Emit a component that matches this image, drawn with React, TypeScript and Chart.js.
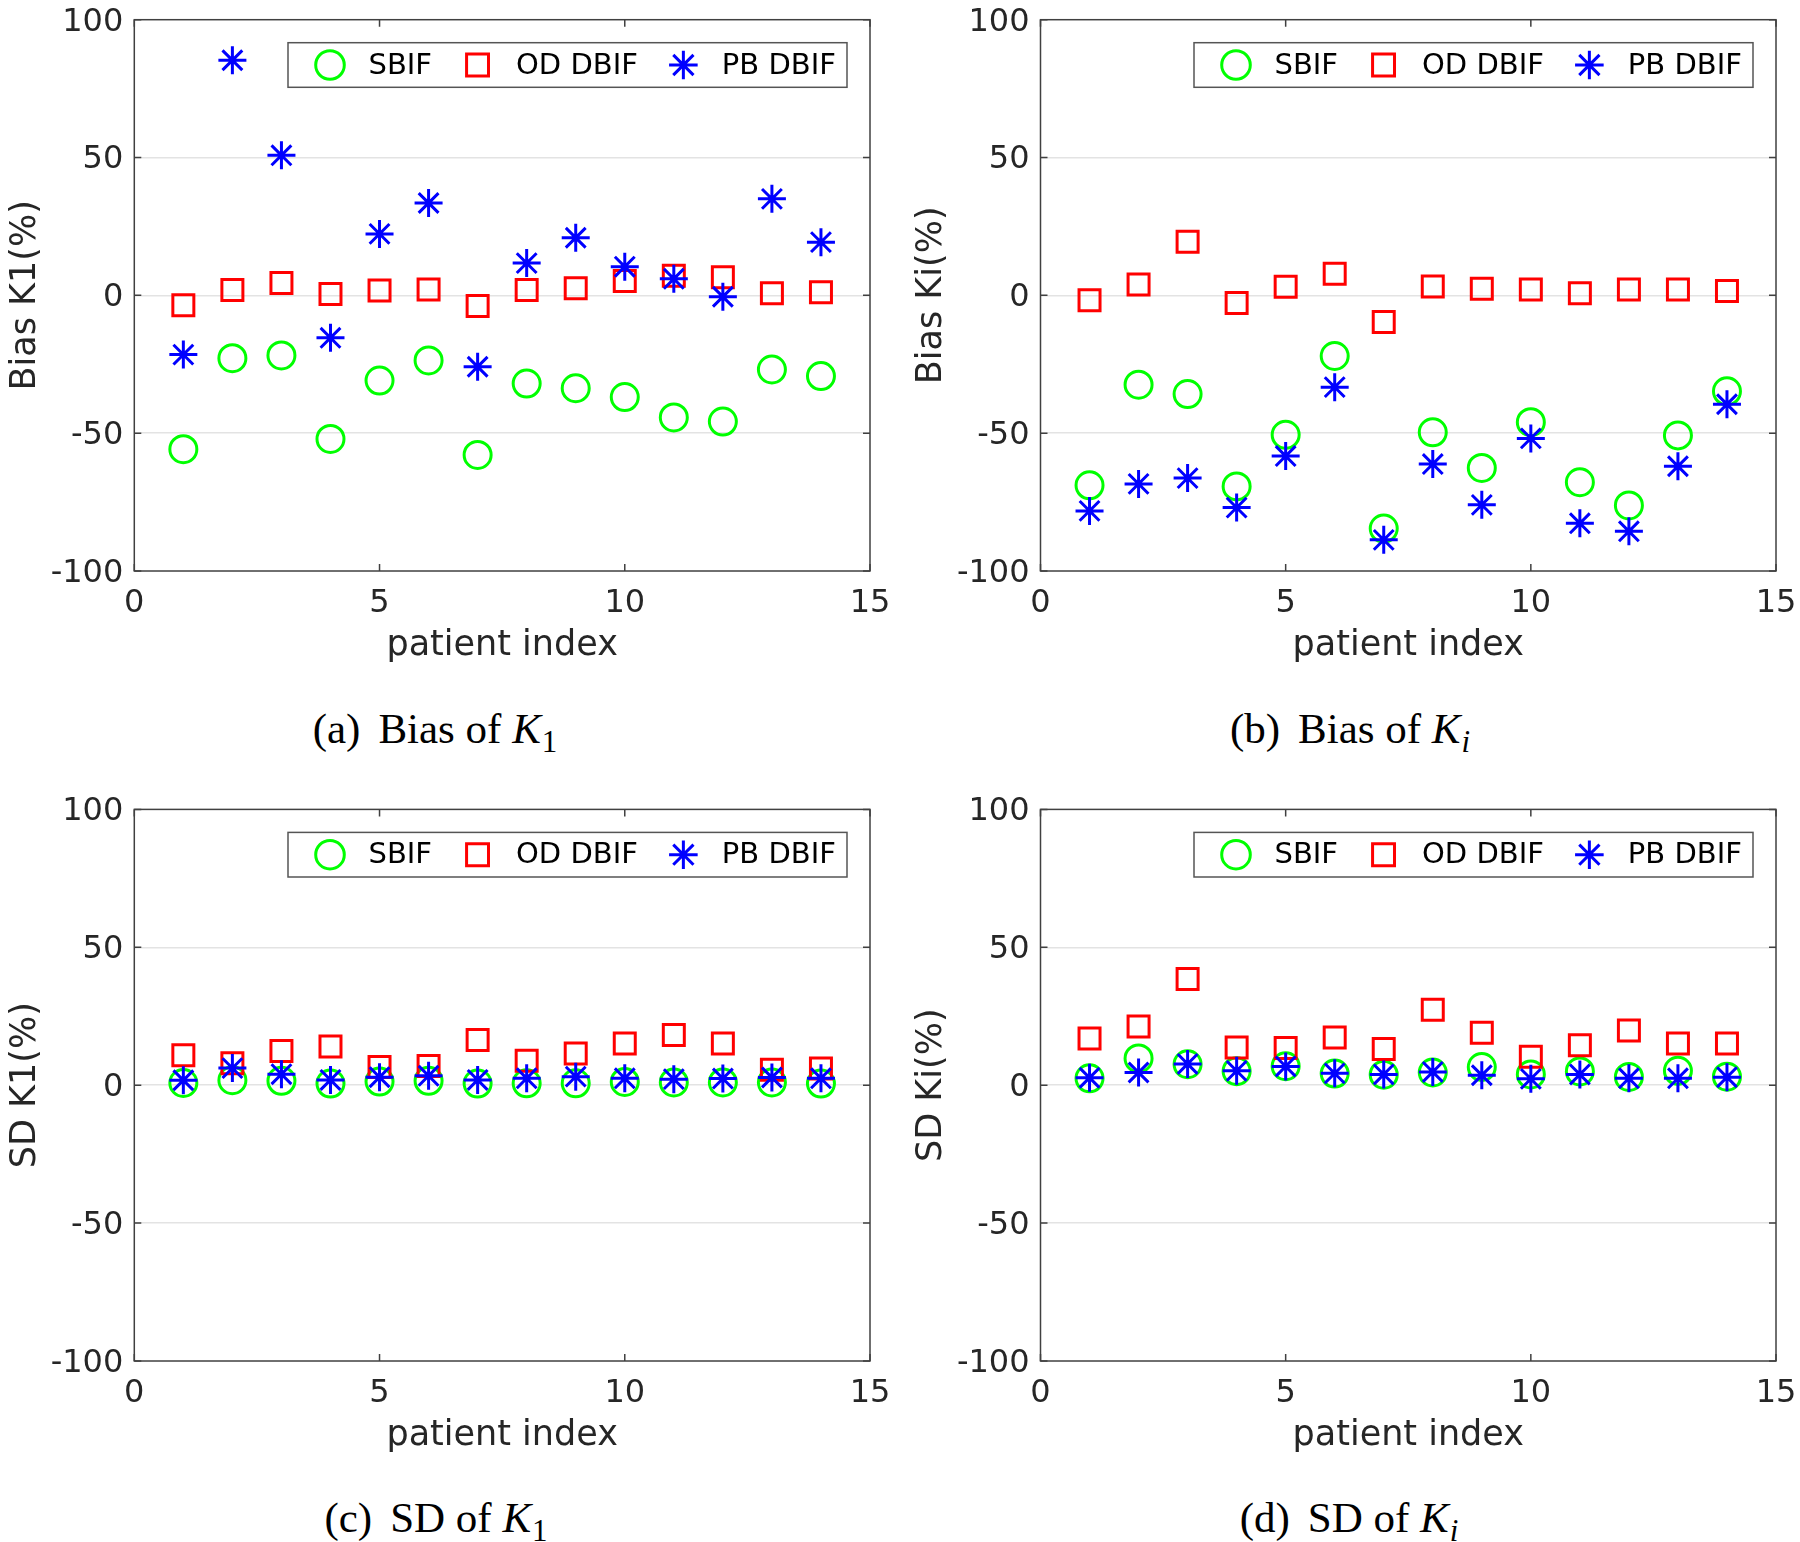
import React, { useEffect, useRef } from "react";
import { Chart, registerables } from "chart.js";

Chart.register(...registerables);

// ---------------- data ----------------
const patientIndex = [1, 2, 3, 4, 5, 6, 7, 8, 9, 10, 11, 12, 13, 14];
const seriesLabels = ["SBIF", "OD DBIF", "PB DBIF"];
const xTickStep = 5;
const yTickStep = 50;

const biasK1Sbif = [-55.8, -22.8, -21.8, -52.1, -30.9, -23.6, -57.9, -32.0, -33.7, -36.9, -44.3, -45.8, -26.9, -29.3];
const biasK1Od = [-3.6, 1.9, 4.5, 0.5, 1.8, 2.1, -3.9, 1.9, 2.6, 5.2, 7.1, 6.6, 0.8, 1.1];
const biasK1Pb = [-21.5, 85.3, 50.8, -15.4, 22.3, 33.5, -25.9, 11.7, 20.9, 10.4, 6.0, -0.5, 35.0, 19.3];

const biasKiSbif = [-68.9, -32.4, -35.8, -69.3, -50.6, -22.0, -84.6, -49.7, -62.6, -46.0, -67.8, -76.2, -50.8, -34.8];
const biasKiOd = [-1.8, 3.9, 19.4, -2.8, 3.1, 7.8, -9.7, 3.2, 2.4, 2.1, 0.8, 2.1, 2.1, 1.6];
const biasKiPb = [-78.2, -68.4, -66.3, -77.0, -58.3, -33.3, -88.7, -61.2, -76.0, -51.9, -82.7, -85.6, -62.0, -39.5];

const sdK1Sbif = [0.8, 1.8, 1.6, 0.6, 1.3, 1.6, 0.6, 0.7, 0.7, 1.2, 1.0, 1.0, 1.0, 0.6];
const sdK1Od = [10.9, 8.0, 12.4, 14.0, 6.6, 7.0, 16.4, 8.9, 11.5, 15.1, 18.2, 15.1, 5.6, 6.1];
const sdK1Pb = [1.8, 6.2, 4.0, 1.9, 2.9, 3.4, 1.9, 2.5, 3.1, 2.5, 2.2, 2.4, 2.8, 2.5];

const sdKiSbif = [2.5, 9.7, 7.6, 5.1, 6.9, 4.2, 3.8, 4.6, 6.6, 3.9, 5.0, 3.0, 5.2, 3.1];
const sdKiOd = [16.9, 21.3, 38.5, 13.7, 13.5, 17.3, 13.1, 27.4, 19.0, 10.3, 14.5, 19.8, 15.1, 15.1];
const sdKiPb = [2.7, 4.6, 7.7, 5.2, 6.8, 4.3, 3.9, 4.8, 3.6, 2.3, 3.9, 2.5, 2.5, 2.9];

// ---------------- styles ----------------
const FONT = "'DejaVu Sans', 'Noto Sans', sans-serif";
const TEXT_COLOR = "#262626";
const AXIS_COLOR = "#404040";
const GRID_COLOR = "#e3e3e3";
const TICK_LEN = 7;

const seriesStyles = [
  { color: "#00ff00", pointStyle: "circle", radius: 13.5, order: 3 },
  { color: "#ff0000", pointStyle: "rect", radius: 14.85, order: 2 },
  { color: "#0000ff", pointStyle: "star", radius: 14, order: 1 },
];

type PanelCfg = {
  key: string;
  left: number;
  top: number;
  yWidth: number;
  padTop: number;
  padRight: number;
  yTitle: string;
  yTitlePad: number;
  series: number[][];
};

const panels: PanelCfg[] = [
  { key: "a", left: 0, top: 0, yWidth: 134.3, padTop: 19.7, padRight: 30, yTitle: "Bias K1(%)", yTitlePad: 5, series: [biasK1Sbif, biasK1Od, biasK1Pb] },
  { key: "b", left: 900, top: 0, yWidth: 140.5, padTop: 19.7, padRight: 24, yTitle: "Bias Ki(%)", yTitlePad: 10.5, series: [biasKiSbif, biasKiOd, biasKiPb] },
  { key: "c", left: 0, top: 790, yWidth: 134.3, padTop: 19.4, padRight: 30, yTitle: "SD K1(%)", yTitlePad: 5, series: [sdK1Sbif, sdK1Od, sdK1Pb] },
  { key: "d", left: 900, top: 790, yWidth: 140.5, padTop: 19.4, padRight: 24, yTitle: "SD Ki(%)", yTitlePad: 10.5, series: [sdKiSbif, sdKiOd, sdKiPb] },
];

function drawMarker(ctx: CanvasRenderingContext2D, style: string, x: number, y: number, r: number, color: string) {
  ctx.save();
  ctx.strokeStyle = color;
  ctx.lineWidth = 3;
  ctx.beginPath();
  if (style === "circle") {
    ctx.arc(x, y, r, 0, Math.PI * 2);
  } else if (style === "rect") {
    const h = r * Math.SQRT1_2;
    ctx.rect(x - h, y - h, 2 * h, 2 * h);
  } else {
    for (let k = 0; k < 4; k++) {
      const a = (k * Math.PI) / 4;
      const dx = Math.cos(a) * r;
      const dy = Math.sin(a) * r;
      ctx.moveTo(x - dx, y - dy);
      ctx.lineTo(x + dx, y + dy);
    }
  }
  ctx.stroke();
  ctx.restore();
}

const matlabPlugin = {
  id: "matlabAxes",
  afterDraw(chart: any) {
    const { ctx, chartArea: a, scales } = chart;
    const xs = scales.x;
    const ys = scales.y;
    ctx.save();
    ctx.strokeStyle = AXIS_COLOR;
    ctx.lineWidth = 1.5;
    ctx.beginPath();
    for (const t of xs.ticks) {
      const px = xs.getPixelForValue(t.value);
      ctx.moveTo(px, a.bottom);
      ctx.lineTo(px, a.bottom - TICK_LEN);
      ctx.moveTo(px, a.top);
      ctx.lineTo(px, a.top + TICK_LEN);
    }
    for (const t of ys.ticks) {
      const py = ys.getPixelForValue(t.value);
      ctx.moveTo(a.left, py);
      ctx.lineTo(a.left + TICK_LEN, py);
      ctx.moveTo(a.right, py);
      ctx.lineTo(a.right - TICK_LEN, py);
    }
    ctx.stroke();
    ctx.strokeRect(a.left, a.top, a.right - a.left, a.bottom - a.top);

    // legend box (MATLAB style, inside the axes, north-east)
    const lw = 559;
    const lh = 44.6;
    const lx = a.right - 23 - lw;
    const ly = a.top + 23;
    ctx.fillStyle = "#ffffff";
    ctx.fillRect(lx, ly, lw, lh);
    ctx.strokeStyle = "#555555";
    ctx.lineWidth = 1.5;
    ctx.strokeRect(lx, ly, lw, lh);
    ctx.font = `29px ${FONT}`;
    ctx.fillStyle = "#000000";
    ctx.textBaseline = "middle";
    ctx.textAlign = "left";
    const cy = ly + lh / 2;
    let mx = lx + 42;
    chart.data.datasets.forEach((ds: any, i: number) => {
      const st = seriesStyles[i];
      drawMarker(ctx, st.pointStyle, mx, cy, st.pointStyle === "rect" ? 15.5 : 14.3, st.color);
      const tx = mx + 38.5;
      ctx.fillText(ds.label, tx, cy + 1);
      mx = tx + ctx.measureText(ds.label).width + 45.5;
    });
    ctx.restore();
  },
};

function Panel({ cfg }: { cfg: PanelCfg }) {
  const ref = useRef<HTMLCanvasElement>(null);
  useEffect(() => {
    Chart.defaults.font.family = FONT;
    const datasets = cfg.series.map((vals, i) => ({
      label: seriesLabels[i],
      data: patientIndex.map((p, j) => ({ x: p, y: vals[j] })),
      showLine: false,
      pointStyle: seriesStyles[i].pointStyle as any,
      pointRadius: seriesStyles[i].radius,
      pointHoverRadius: seriesStyles[i].radius,
      pointBorderWidth: 3,
      pointBorderColor: seriesStyles[i].color,
      borderColor: seriesStyles[i].color,
      pointBackgroundColor: "rgba(0,0,0,0)",
      backgroundColor: "rgba(0,0,0,0)",
      order: seriesStyles[i].order,
    }));
    const chart = new Chart(ref.current!, {
      type: "scatter",
      data: { datasets },
      options: {
        responsive: false,
        animation: false,
        events: [],
        layout: { padding: { left: 0, top: cfg.padTop, right: cfg.padRight, bottom: 0 } },
        plugins: { legend: { display: false }, tooltip: { enabled: false } },
        scales: {
          x: {
            type: "linear",
            min: 0,
            max: 15,
            ticks: { stepSize: xTickStep, padding: 13, color: TEXT_COLOR, font: { size: 32 }, maxRotation: 0 },
            grid: { display: false, drawTicks: false },
            border: { display: false },
            title: { display: true, text: "patient index", color: TEXT_COLOR, font: { size: 35 }, padding: { top: 0, bottom: 33 } },
            afterFit: (s: any) => {
              s.height = 129;
              s.paddingLeft = 0;
              s.paddingRight = 0;
            },
          },
          y: {
            type: "linear",
            min: -100,
            max: 100,
            ticks: { stepSize: yTickStep, padding: 11, labelOffset: 2.5, color: TEXT_COLOR, font: { size: 32 } },
            grid: {
              drawTicks: false,
              lineWidth: 1.5,
              color: (c: any) => (Math.abs(c.tick?.value) === 100 ? "rgba(0,0,0,0)" : GRID_COLOR),
            },
            border: { display: false },
            title: { display: true, text: cfg.yTitle, color: TEXT_COLOR, font: { size: 35 }, padding: { top: cfg.yTitlePad, bottom: 0 } },
            afterFit: (s: any) => {
              s.width = cfg.yWidth;
              s.paddingTop = 0;
              s.paddingBottom = 0;
            },
          },
        },
      },
      plugins: [matlabPlugin],
    } as any);
    return () => chart.destroy();
  }, []);
  return (
    <canvas
      ref={ref}
      width={900}
      height={700}
      style={{ position: "absolute", left: cfg.left, top: cfg.top, width: 900, height: 700 }}
    />
  );
}

const captionStyle: React.CSSProperties = {
  position: "absolute",
  fontFamily: "'Liberation Serif', 'Times New Roman', serif",
  fontSize: 43,
  lineHeight: "43px",
  color: "#000",
  whiteSpace: "nowrap",
  transform: "translateX(-50%)",
};

function Caption({ x, y, tag, what, sub, subItalic }: { x: number; y: number; tag: string; what: string; sub: string; subItalic: boolean }) {
  return (
    <div style={{ ...captionStyle, left: x, top: y }}>
      <span>{tag}</span>
      <span style={{ marginLeft: 18 }}>{what} </span>
      <i>K</i>
      <span style={{ fontSize: "0.72em", position: "relative", top: "0.3em", marginLeft: 1, fontStyle: subItalic ? "italic" : "normal" }}>{sub}</span>
    </div>
  );
}

export default function App() {
  return (
    <div style={{ position: "absolute", left: 0, top: 0, width: 1800, height: 1542, background: "#fff", overflow: "hidden" }}>
      {panels.map((p) => (
        <Panel key={p.key} cfg={p} />
      ))}
      <Caption x={435} y={707} tag="(a)" what="Bias of" sub="1" subItalic={false} />
      <Caption x={1350} y={707} tag="(b)" what="Bias of" sub="i" subItalic={true} />
      <Caption x={436} y={1496} tag="(c)" what="SD of" sub="1" subItalic={false} />
      <Caption x={1349} y={1496} tag="(d)" what="SD of" sub="i" subItalic={true} />
    </div>
  );
}
